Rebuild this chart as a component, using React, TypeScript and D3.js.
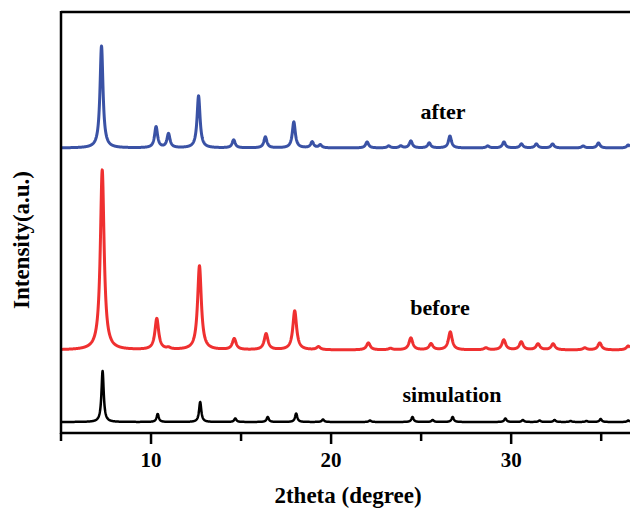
import React from "react";
import * as d3 from "d3";

// Peak lists: [2theta, height (px-units), FWHM (deg)]
const afterPeaks: [number, number][] = [
  [7.25, 102], [10.28, 21], [10.97, 14], [12.64, 52], [14.59, 8], [16.35, 11],
  [17.93, 26], [18.95, 6], [19.4, 3], [22.0, 6], [23.2, 2], [23.87, 2],
  [24.43, 7], [25.45, 5], [26.6, 12], [28.7, 2], [29.6, 6], [30.57, 4],
  [31.4, 4], [32.3, 4], [34.0, 2], [34.85, 5], [36.5, 3],
];
const beforePeaks: [number, number][] = [
  [7.29, 180], [10.32, 31], [10.97, 1.5], [12.69, 84], [14.62, 11], [16.39, 16],
  [17.98, 39], [19.3, 3], [22.07, 7], [23.3, 1.5], [24.43, 12], [25.55, 6],
  [26.62, 18], [28.6, 2], [29.59, 10], [30.56, 8], [31.49, 6], [32.33, 6],
  [34.09, 2], [34.92, 7], [36.5, 4],
];
const simPeaks: [number, number][] = [
  [7.31, 51], [10.37, 8], [12.73, 20], [14.68, 3.5], [16.48, 5], [18.06, 8.5],
  [19.55, 2.5], [22.16, 1.5], [24.52, 5], [25.64, 2], [26.75, 5], [29.68, 3.5],
  [30.65, 2], [31.58, 1.5], [32.41, 2], [33.3, 1], [34.18, 1], [34.97, 3], [36.5, 1.5],
];
const seriesNames = ["after", "before", "simulation"];
const seriesOffsets = [285, 83, 11];
const seriesWidths = [0.2, 0.25, 0.15];
const seriesColors = ["#3a52a5", "#ef3030", "#000000"];
const majorTicks = [10, 20, 30];
const minorTicks = [5, 15, 25, 35];

const W = 630, H = 511;
const x = d3.scaleLinear().domain([5, 36.6]).range([61, 630]);
const y = d3.scaleLinear().domain([0, 421]).range([433, 12]);

function profile(peaks: [number, number][], w: number, offset: number) {
  const xs = d3.range(5, 36.6 + 1e-9, 0.01);
  return xs.map((t) => {
    let v = offset;
    for (const [c, h] of peaks) {
      const u = (2 * (t - c)) / w;
      v += h / (1 + u * u);
    }
    return [t, v] as [number, number];
  });
}

export default function App() {
  const line = d3.line<[number, number]>().x((d) => x(d[0])).y((d) => y(d[1]));
  const all = [afterPeaks, beforePeaks, simPeaks];
  const font = "'Liberation Serif', 'Times New Roman', serif";
  const labelPos = [
    { x: 443, y: 119 },
    { x: 440, y: 315 },
    { x: 452, y: 402 },
  ];
  return (
    <svg width={W} height={H} style={{ position: "absolute", left: 0, top: 0, background: "#fff" }}>
      <defs>
        <clipPath id="plot">
          <rect x={61} y={12} width={W - 61} height={421} />
        </clipPath>
      </defs>
      <g clipPath="url(#plot)">
        {all.map((p, i) => (
          <path
            key={i}
            d={line(profile(p, seriesWidths[i], seriesOffsets[i])) || ""}
            fill="none"
            stroke={seriesColors[i]}
            strokeWidth={i === 2 ? 2.5 : 3}
            strokeLinejoin="round"
          />
        ))}
      </g>
      {/* frame */}
      <line x1={61} x2={W} y1={12} y2={12} stroke="#000" strokeWidth={2.5} />
      <line x1={61} x2={61} y1={11} y2={434} stroke="#000" strokeWidth={2.5} />
      <line x1={60} x2={W} y1={433} y2={433} stroke="#000" strokeWidth={2.5} />
      {majorTicks.map((t) => (
        <g key={"M" + t}>
          <line x1={x(t)} x2={x(t)} y1={433} y2={444} stroke="#000" strokeWidth={2.5} />
          <text x={x(t)} y={467} textAnchor="middle" fontFamily={font} fontWeight="bold" fontSize={21}>
            {t}
          </text>
        </g>
      ))}
      {minorTicks.map((t) => (
        <line key={"m" + t} x1={x(t)} x2={x(t)} y1={433} y2={441} stroke="#000" strokeWidth={2.5} />
      ))}
      {seriesNames.map((n, i) => (
        <text key={n} x={labelPos[i].x} y={labelPos[i].y} textAnchor="middle" fontFamily={font} fontWeight="bold" fontSize={22}>
          {n}
        </text>
      ))}
      <text x={348} y={503} textAnchor="middle" fontFamily={font} fontWeight="bold" fontSize={23}>
        2theta (degree)
      </text>
      <text transform="translate(29,240) rotate(-90)" textAnchor="middle" fontFamily={font} fontWeight="bold" fontSize={23}>
        Intensity(a.u.)
      </text>
    </svg>
  );
}
